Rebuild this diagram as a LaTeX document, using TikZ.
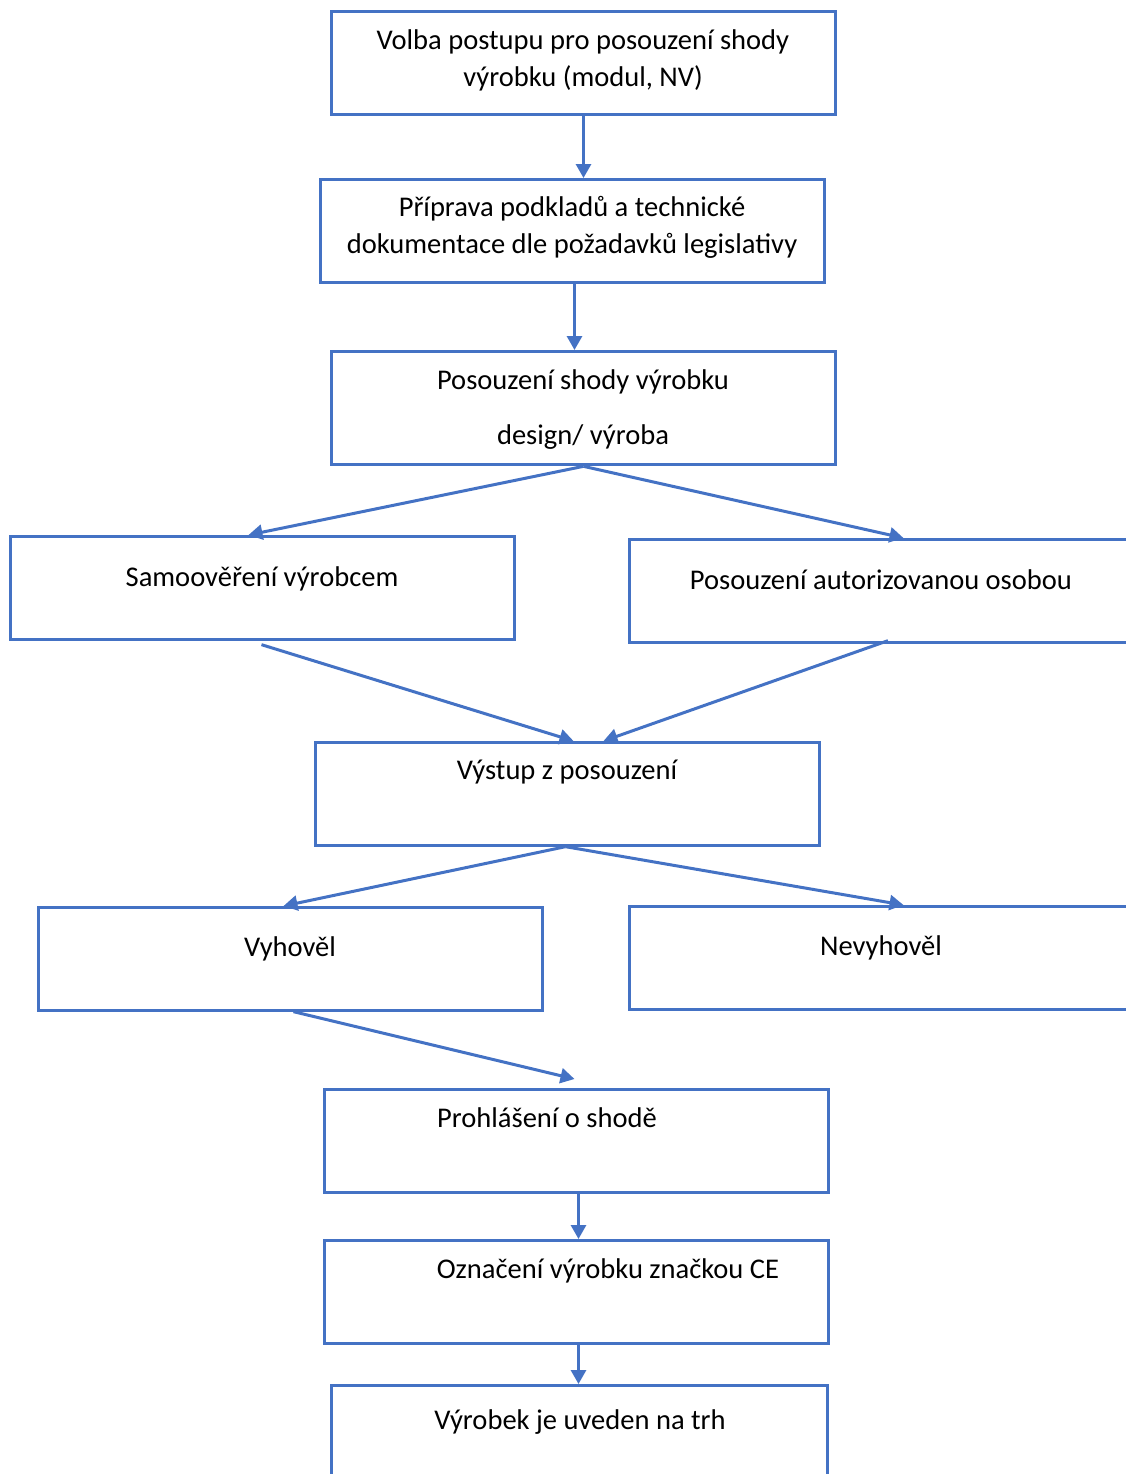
\documentclass[tikz,border=0pt]{standalone}
\usepackage{fontspec}
\setmainfont{Carlito}
\usetikzlibrary{arrows.meta}
\definecolor{wblue}{HTML}{4472C4}
\begin{document}
\begin{tikzpicture}[x=0.75pt,y=-0.75pt,
  box/.style={draw=wblue,line width=2.25pt,rectangle,inner sep=0pt,minimum width=378pt,minimum height=77pt,anchor=north west},
  txt/.style={anchor=base,inner sep=0pt,font=\fontsize{21.4}{27}\selectfont},
  conn/.style={draw=wblue,line width=2.25pt,-{Triangle[length=10.5pt,width=11.25pt]}}]
\useasboundingbox (0,0) rectangle (1125,1474);
\node[box] (b1) at (330,10) {};
\node[box] (b2) at (319,178) {};
\node[box,minimum height=85pt] (b3) at (330,350) {};
\node[box] (b4) at (9,535) {};
\node[box] (b5) at (628,538) {};
\node[box] (b6) at (314,741) {};
\node[box] (b7) at (37,906) {};
\node[box] (b8) at (628,905) {};
\node[box] (b9) at (323,1088) {};
\node[box] (b10) at (323,1239) {};
\node[box,minimum width=372pt] (b11) at (330,1384) {};
% texts
\node[txt] (t1a) at (583,49) {Volba postupu pro posouzení shody};
\node[txt] (t1b) at (583,86) {výrobku (modul, NV)};
\node[txt] (t2a) at (572,216) {Příprava podkladů a technické};
\node[txt] (t2b) at (572,253) {dokumentace dle požadavků legislativy};
\node[txt] (t3a) at (583,389) {Posouzení shody výrobku};
\node[txt] (t3b) at (583,444) {design/ výroba};
\node[txt] (t4) at (262,586) {Samoověření výrobcem};
\node[txt] (t5) at (881,589) {Posouzení autorizovanou osobou};
\node[txt] (t6) at (567,779) {Výstup z posouzení};
\node[txt] (t7) at (290,956) {Vyhověl};
\node[txt] (t8) at (881,955) {Nevyhověl};
\node[txt] (t9) at (547,1127) {Prohlášení o shodě};
\node[txt] (t10) at (608,1278) {Označení výrobku značkou CE};
\node[txt] (t11) at (580,1429) {Výrobek je uveden na trh};
% connectors
\draw[conn] (b1.south) -- (b1.south |- b2.north);
\draw[conn] ([xshift=1.5pt]b2.south) -- ([xshift=1.5pt]b2.south |- b3.north);
\draw[conn] (b3.south) -- ([xshift=-10.5pt]b4.north);
\draw[conn] (b3.south) -- ([xshift=16.5pt]b5.north);
\draw[conn] ([xshift=-0.75pt,yshift=-3pt]b4.south) -- ([xshift=4.5pt]b6.north);
\draw[conn] ([xshift=195pt,yshift=2.25pt]b5.south west) -- ([xshift=27pt]b6.north);
\draw[conn] ([xshift=-1.5pt]b6.south) -- ([xshift=-5.25pt]b7.north);
\draw[conn] ([xshift=-1.5pt]b6.south) -- ([xshift=16.5pt]b8.north);
\draw[conn] ([xshift=2.25pt]b7.south) -- ([xshift=-1.5pt,yshift=6.75pt]b9.north);
\draw[conn] ([xshift=1.5pt]b9.south) -- ([xshift=1.5pt]b9.south |- b10.north);
\draw[conn] ([xshift=1.5pt]b10.south) -- ([xshift=1.5pt]b10.south |- b11.north);
\end{tikzpicture}
\end{document}
